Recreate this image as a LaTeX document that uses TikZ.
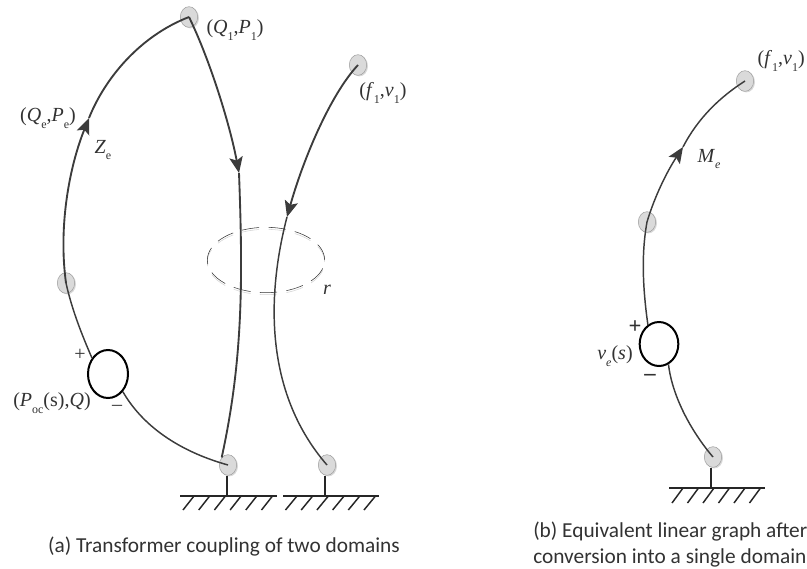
\documentclass[tikz,border=0pt]{standalone}
\usepackage{fontspec}
\setmainfont{Liberation Serif}
\newfontfamily\capfont{Carlito}
\usepackage{xcolor}
\usepackage{tikz}
\usetikzlibrary{shapes.geometric,arrows.meta,shadows}
\definecolor{wiregrey}{RGB}{60,60,60}
\definecolor{inkgrey}{RGB}{50,50,50}
\definecolor{nodegrey}{RGB}{218,218,218}
\newcommand{\lsub}[1]{\raisebox{-0.7ex}{\fontsize{9}{9}\selectfont #1}}

\begin{document}
\begin{tikzpicture}[x=0.75pt, y=-0.75pt,
    pin/.style={ellipse, draw=gray!75, fill=nodegrey, inner sep=0pt,
               minimum width=13pt, minimum height=15.5pt,
               drop shadow={shadow xshift=1pt, shadow yshift=-0.8pt, fill=gray, opacity=0.3}},
    src/.style={ellipse, draw=black, line width=1.5pt, inner sep=0pt,
               minimum width=30pt, minimum height=36pt},
    core/.style={ellipse, dashed, dash pattern=on 13pt off 7pt, inner sep=0pt,
               minimum width=88pt, minimum height=49pt},
    lbl/.style={font=\fontsize{15}{17}\selectfont, text=inkgrey, inner sep=0pt},
    caption/.style={font=\capfont\fontsize{16}{19}\selectfont, text=inkgrey, inner sep=0pt, align=center},
    wire/.style={draw=wiregrey, line width=1.4pt},
    thin wire/.style={draw=wiregrey, line width=1.1pt},
    arr/.style={wire, -{Stealth[length=12pt, width=10pt, inset=2.5pt]}},
    gnd/.style={draw=black!85, line width=1.1pt}
]
    \useasboundingbox (0,0) rectangle (807,568);

    % left graph
    \node[pin] (top)  at (189,17)  {};
    \node[pin] (mid)  at (66,283)  {};
    \node[src] (emf)  at (108,374) {};
    \node[pin] (low)  at (228,465) {};
    \node[pin] (fone) at (358,65)  {};
    \node[pin] (lowb) at (327,465) {};
    \coordinate (tipz) at (89,118);
    \coordinate (tipq) at (239,173);
    \coordinate (tipf) at (287,217);

    \node[core, draw=gray!35] (coreb) at (266,262) {};
    \node[core, draw=black!80] (coret) at (266,260) {};

    \draw[arr] (mid.center) .. controls (58,225) and (70,165) .. (tipz);
    \draw[wire] (tipz) .. controls (105,78) and (140,36) .. (top.center);
    \draw[arr] (top.center) .. controls (210,60) and (230,125) .. (tipq);
    \draw[wire] (tipq) .. controls (243,280) and (243,360) .. (low.north west);
    \draw[thin wire] (mid.center) .. controls (72,310) and (82,335) .. (emf.135);
    \draw[thin wire] (emf.-50) .. controls (145,430) and (185,453) .. (low.center);
    \draw[arr] (fone.center) .. controls (330,95) and (303,160) .. (tipf);
    \draw[thin wire] (tipf) .. controls (268,290) and (262,390) .. (lowb.center);

    \node[lbl] (lq)  at (235,30)  {(\textit{Q}\lsub{1},\textit{P}\lsub{1})};
    \node[lbl] (lf)  at (383,93)  {(\textit{f}\lsub{1},\textit{v}\lsub{1})};
    \node[lbl] (lqe) at (48,118)  {(\textit{Q}\lsub{e},\textit{P}\lsub{e})};
    \node[lbl] (lz)  at (103,150) {\textit{Z}\lsub{e}};
    \node[lbl] (lr)  at (327,290) {\textit{r}};
    \node[lbl] (lp)  at (80,355)  {+};
    \node[lbl] (lm)  at (117,408) {--};
    \node[lbl] (lpo) at (52,403)  {(\textit{P}\lsub{oc}(s),\textit{Q})};

    % right graph
    \node[pin] (fr)   at (745,81)  {};
    \node[pin] (midr) at (647,222) {};
    \node[src, minimum width=29pt, minimum height=33pt] (emfr) at (659,344) {};
    \node[pin] (lowr) at (713,457) {};
    \coordinate (tipm) at (683,147);

    \draw[arr, line width=1.1pt] (midr.center) .. controls (655,195) and (668,170) .. (tipm);
    \draw[thin wire] (tipm) .. controls (698,118) and (720,97) .. (fr.center);
    \draw[thin wire] (midr.center) .. controls (641,255) and (643,290) .. (emfr.120);
    \draw[thin wire] (emfr.-65) .. controls (672,395) and (690,430) .. (lowr.center);

    \node[lbl, anchor=east] (lfr) at (805,61) {(\textit{f}\lsub{1},\textit{v}\lsub{1})};
    \node[lbl] (lme) at (709,159) {\textit{M}\lsub{\textit{e}}};
    \node[lbl] (lve) at (615,356) {\textit{v}\lsub{\textit{e}}(\textit{s})};
    \node[lbl, font=\fontsize{17}{17}\selectfont\bfseries] (lpr) at (635,327) {+};
    \node[lbl, font=\fontsize{17}{17}\selectfont\bfseries] (lmr) at (650,377) {--};

    % grounds
    \coordinate (ga) at (227,496);
    \coordinate (gb) at (325,496);
    \coordinate (gr) at (711,488);
    \draw[gnd] (low.south -| ga) -- (ga);
    \draw[gnd] (lowb.south -| gb) -- (gb);
    \draw[gnd] (lowr.south -| gr) -- (gr);
    \draw[gnd] (180,496) -- (277,496);
    \draw[gnd] (283,496) -- (379,496);
    \draw[gnd] (669,488) -- (765,488);
    \foreach \i in {0,...,5} {
        \draw[gnd] (194+15.7*\i,496) -- ++(-11,14);
        \draw[gnd] (297+15.7*\i,496) -- ++(-11.5,14);
        \draw[gnd] (683+15.5*\i,488) -- ++(-11,15);
    }

    \node[caption] (capa) at (224,547) {(a) Transformer coupling of two domains};
    \node[caption, anchor=west] (capb) at (533,532) {(b) Equivalent linear graph after};
    \node[caption, anchor=west] (capc) at (533,558) {conversion into a single domain};
\end{tikzpicture}
\end{document}
